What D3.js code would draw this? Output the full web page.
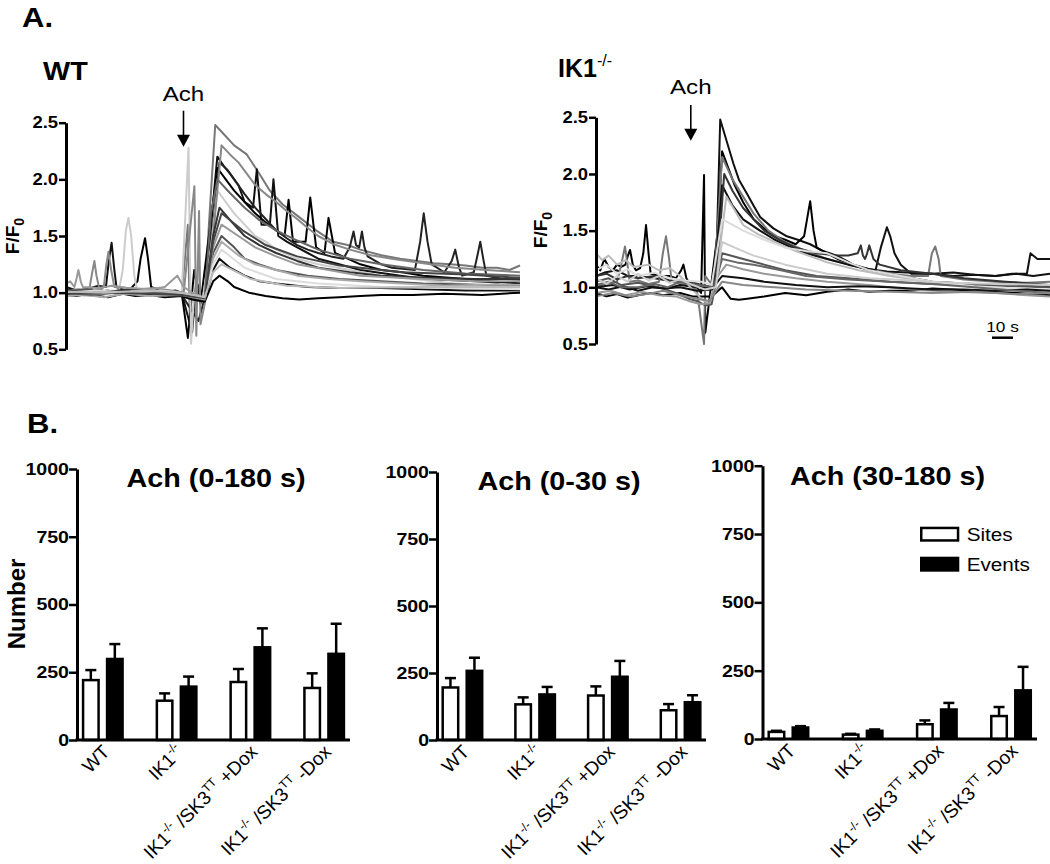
<!DOCTYPE html>
<html><head><meta charset="utf-8">
<script src="https://cdn.jsdelivr.net/npm/d3@7"></script>
<style>body{margin:0;background:#fff} text{font-family:"Liberation Sans",Arial,sans-serif;fill:#000}</style>
</head><body><svg id="c" width="1050" height="864"></svg>
<script>
// ---------------- DATA ----------------
// Panel A: F/F0 traces, points are [time (s), F/F0]
const traceTimeDomain = [0, 216];
const traceYTicks = [0.5, 1.0, 1.5, 2.0, 2.5];
const wtAchTime = 55.9;
const ik1AchTime = 45.1;
const scaleBarStart = 188.4, scaleBarLen = 10;

const wtTraces = [
  [[0,1.0],[4,1.02],[9,0.98],[14,1.01],[20,1.02],[26,0.99],[31,0.99],[36,1.01],[40,1.0],[47,0.99],[55,0.98],[58,1.6],[59,0.7],[62,1.0],[66,0.95],[68,1.6],[71,2.48],[75,2.4],[80,2.3],[86,2.22],[92,2.05],[97,1.9],[103,1.78],[110,1.68],[119,1.55],[127,1.45],[134,1.42],[140,1.38],[150,1.33],[159,1.3],[167,1.28],[175,1.26],[183,1.25],[190,1.24],[198,1.22],[205,1.22],[211,1.2],[216,1.24]],
  [[0,1.05],[5,1.02],[10,1.03],[15,1.06],[19,1.05],[20.5,1.3],[21.7,1.44],[23,1.2],[24,1.05],[28,1.02],[32,1.0],[36,1.03],[40,1.02],[46,1.0],[52,1.02],[55,1.0],[60,0.65],[62,1.1],[66,0.92],[70,1.8],[72,2.2],[75,2.12],[78,2.05],[82,1.95],[85,1.8],[89,1.75],[90.8,2.09],[93,1.6],[97,1.6],[98.7,2.0],[101,1.5],[105,1.45],[110,1.4],[115,1.35],[120,1.3],[130,1.25],[140,1.2],[155,1.16],[170,1.12],[185,1.11],[195,1.1],[205,1.09],[216,1.1]],
  [[0,1.0],[6,1.01],[10,0.99],[15,0.98],[22,1.01],[30,1.02],[34,1.1],[35.5,1.3],[37.6,1.48],[39,1.3],[40.5,1.05],[45,1.02],[50,1.0],[55,1.0],[58,0.6],[61,1.2],[64,0.9],[68,1.5],[72,2.1],[76,2.0],[80,1.9],[85,1.8],[90,1.7],[95,1.62],[100,1.55],[104,1.5],[105.9,1.82],[108,1.45],[111,1.45],[114,1.45],[116.2,1.84],[119,1.4],[123,1.35],[124.9,1.66],[128,1.35],[134,1.3],[140,1.25],[150,1.2],[160,1.18],[170,1.15],[190,1.12],[216,1.08]],
  [[0,1.0],[8,0.99],[15,1.02],[20,1.01],[30,1.0],[40,0.99],[48,1.0],[55,0.98],[63,0.75],[66,0.95],[70,1.6],[73,2.15],[77,2.08],[80,2.0],[85,1.87],[90,1.75],[95,1.65],[100,1.55],[105,1.48],[110,1.42],[115,1.38],[120,1.35],[126,1.32],[132,1.3],[135,1.4],[136.8,1.54],[138,1.42],[139.5,1.4],[140.8,1.54],[142,1.4],[143.5,1.32],[150,1.25],[155,1.22],[160,1.21],[166,1.2],[168.5,1.45],[170.2,1.7],[172,1.45],[174,1.25],[180,1.18],[183.5,1.28],[185.2,1.38],[187,1.22],[188.5,1.15],[194,1.18],[196,1.35],[197.1,1.45],[198.5,1.3],[200,1.15],[208,1.12],[216,1.12]],
  [[0,1.0],[6,0.98],[12,0.97],[18,0.99],[22,1.02],[25,1.0],[27,1.2],[28.5,1.55],[29.7,1.66],[31,1.5],[32.5,1.15],[34,1.0],[40,0.99],[45,0.98],[50,1.0],[55,0.97],[58.3,2.28],[59.5,0.55],[61,1.0],[65,0.95],[69,1.4],[72,1.9],[76,1.8],[80,1.7],[85,1.6],[90,1.5],[95,1.45],[100,1.38],[110,1.3],[120,1.25],[135,1.2],[150,1.15],[165,1.12],[185,1.08],[200,1.06],[216,1.05]],
  [[0,1.02],[6,1.03],[11,1.02],[12.5,1.18],[13.5,1.28],[14.5,1.15],[16,1.02],[18,1.05],[19.2,1.25],[20.2,1.36],[21.5,1.2],[23,1.05],[29,1.04],[35,1.03],[42,1.04],[50,1.02],[56,1.0],[61.1,1.94],[62,0.62],[63.3,1.72],[64,0.72],[66,0.9],[70,1.5],[74,2.3],[78,2.22],[82,2.15],[86,2.05],[90,1.95],[95,1.87],[100,1.8],[105,1.72],[110,1.65],[115,1.57],[120,1.5],[127,1.43],[135,1.38],[145,1.33],[155,1.3],[170,1.26],[185,1.22],[200,1.2],[216,1.18]],
  [[0,0.98],[5,0.97],[10,0.99],[15,0.97],[20,0.96],[27,0.99],[33,0.97],[40,0.98],[47,0.96],[55,0.97],[60,0.94],[66,0.92],[70,1.1],[73,1.15],[77,1.1],[80,1.05],[87,1.0],[95,0.97],[103,0.95],[111,0.94],[120,0.95],[130,0.96],[140,0.97],[150,0.98],[165,0.98],[180,0.99],[198,0.98],[216,1.0]],
  [[0,1.0],[7,1.01],[14,0.99],[25,1.02],[35,1.0],[45,1.01],[55,0.98],[66,0.93],[70,1.2],[73,1.3],[78,1.22],[85,1.15],[92,1.1],[100,1.08],[115,1.05],[130,1.04],[150,1.04],[170,1.03],[190,1.02],[216,1.02]],
  [[0,1.01],[10,1.03],[20,1.0],[30,0.99],[42,1.01],[55,1.0],[66,0.95],[70,1.35],[74,1.5],[80,1.4],[85,1.3],[92,1.25],[100,1.2],[115,1.15],[130,1.12],[150,1.1],[170,1.08],[195,1.07],[216,1.06]],
  [[0,0.97],[9,0.98],[18,0.96],[28,0.99],[40,0.97],[55,0.98],[66,0.94],[70,1.3],[74,1.45],[82,1.33],[90,1.25],[100,1.2],[110,1.15],[125,1.12],[140,1.1],[160,1.08],[180,1.06],[200,1.07],[216,1.07]],
  [[0,1.03],[8,1.0],[15,1.02],[22,1.01],[32,1.03],[44,1.0],[55,1.0],[66,0.95],[70,1.5],[73,1.75],[79,1.62],[85,1.5],[92,1.42],[100,1.35],[110,1.28],[120,1.22],[135,1.18],[150,1.15],[175,1.13],[195,1.12],[216,1.12]],
  [[0,1.0],[12,0.98],[24,1.0],[35,1.01],[46,0.99],[55,0.99],[66,0.96],[69,1.7],[72,2.0],[78,1.88],[85,1.75],[92,1.64],[100,1.55],[110,1.46],[120,1.38],[135,1.3],[150,1.25],[170,1.2],[190,1.17],[216,1.15]],
  [[0,1.08],[2,1.1],[4,1.05],[5,1.12],[5.9,1.2],[7,1.1],[8,1.05],[15,1.04],[22,1.06],[30,1.04],[40,1.03],[47,1.05],[50,1.1],[53,1.15],[56,1.05],[60,1.0],[66,0.95],[70,1.4],[74,1.6],[82,1.5],[90,1.4],[100,1.32],[110,1.25],[125,1.2],[140,1.15],[170,1.12],[195,1.1],[216,1.1]],
  [[0,1.0],[15,1.02],[30,1.0],[45,1.02],[55,1.0],[66,0.95],[70,1.25],[74,1.38],[85,1.22],[100,1.12],[120,1.08],[150,1.05],[180,1.04],[216,1.03]],
  [[0,0.99],[20,1.0],[40,0.99],[55,0.98],[66,0.95],[70,1.45],[74,1.7],[84,1.55],[95,1.42],[110,1.32],[130,1.24],[160,1.18],[190,1.16],[216,1.13]],
  [[0,1.01],[18,1.0],[38,1.02],[55,1.0],[66,0.96],[70,1.18],[74,1.25],[88,1.12],[105,1.06],[130,1.04],[170,1.05],[216,1.05]]
];
const wtColors = ["#777","#111","#000","#222","#ccc","#888","#000","#111","#555","#aaa","#333","#666","#999","#ddd","#444","#bbb"];

const ik1Traces = [
  [[0,1.1],[4,1.13],[10,1.15],[15,1.1],[20,1.1],[28,1.08],[34,1.06],[40,1.05],[45,1.03],[50,1.0],[55,1.0],[57.5,1.4],[59.1,2.48],[62,2.3],[65.4,2.09],[68,1.95],[71.7,1.83],[75,1.72],[78.1,1.62],[84.4,1.52],[90.8,1.45],[96,1.42],[101.9,1.38],[108,1.32],[114.6,1.28],[122.5,1.2],[130,1.16],[138.4,1.14],[148,1.13],[160,1.12],[170,1.13],[180,1.11],[190,1.1],[198,1.12],[205,1.12],[206.7,1.3],[210,1.25],[216,1.25]],
  [[0,1.2],[2,1.15],[4,1.25],[6,1.18],[8,1.15],[10,1.2],[12,1.18],[14,1.2],[15.2,1.28],[16.2,1.33],[17.5,1.2],[19,1.15],[21,1.17],[22.5,1.3],[23.8,1.55],[25,1.3],[26,1.12],[30,1.1],[35,1.1],[38,1.08],[40.5,1.15],[41.6,1.2],[43,1.08],[44,1.05],[48,1.0],[50,0.95],[51.4,1.99],[52,0.6],[54,0.9],[58,1.5],[60,2.2],[63,2.05],[66,1.9],[70,1.75],[75,1.6],[80,1.52],[85,1.45],[90,1.42],[95,1.38],[99,1.45],[101.9,1.76],[103.5,1.5],[105,1.35],[110,1.3],[115,1.25],[122,1.2],[130,1.15],[145,1.1],[160,1.05],[180,1.03],[200,1.02],[216,1.0]],
  [[0,1.0],[4,1.03],[8,1.04],[10,1.05],[12,1.2],[13.8,1.36],[15,1.2],[16,1.05],[20,1.06],[25,1.03],[30,1.05],[31.8,1.3],[33.3,1.45],[34.8,1.25],[36,1.05],[42,1.03],[48,0.98],[51.4,0.5],[52,1.1],[56,1.0],[60,2.15],[65,1.95],[70,1.8],[75,1.65],[82,1.5],[90,1.4],[100,1.32],[110,1.25],[125,1.18],[140,1.12],[150,1.1],[158,1.1],[159.8,1.3],[161.4,1.36],[163,1.25],[164,1.1],[175,1.07],[190,1.05],[205,1.04],[216,1.05]],
  [[0,1.0],[6,0.98],[13,1.01],[20,0.97],[27,1.0],[34,0.99],[40,1.02],[48,1.0],[56,1.0],[60,1.9],[65,1.72],[70,1.6],[78,1.5],[85,1.42],[92,1.36],[100,1.3],[110,1.25],[120,1.2],[127,1.17],[133,1.15],[135.5,1.35],[138.4,1.53],[140,1.45],[142,1.3],[145,1.2],[150,1.12],[160,1.12],[170,1.1],[180,1.11],[190,1.1],[200,1.12],[208,1.1],[216,1.12]],
  [[0,0.95],[5,0.92],[10,0.94],[15,0.91],[20,0.93],[26,0.95],[32,0.93],[40,0.95],[46,0.92],[55,0.92],[60,1.0],[64,0.9],[68,0.89],[72,0.9],[80,0.92],[90,0.95],[100,0.93],[110,0.96],[120,0.98],[130,0.96],[140,0.97],[150,0.97],[160,0.99],[170,0.98],[185,0.96],[200,0.95],[216,0.93]],
  [[0,1.3],[3,1.24],[6,1.28],[10,1.2],[14,1.24],[18,1.18],[25,1.2],[30,1.15],[35,1.17],[40,1.1],[45,1.0],[50,0.9],[54,0.85],[58,1.2],[62,1.8],[66,1.68],[70,1.55],[77,1.47],[85,1.4],[95,1.32],[110,1.22],[125,1.15],[140,1.1],[160,1.05],[180,1.0],[198,0.98],[216,0.96]],
  [[0,1.05],[6,1.08],[12,1.02],[20,1.04],[30,1.0],[38,0.95],[44,0.9],[48,0.88],[52,0.84],[55,0.85],[60,1.3],[64,1.28],[70,1.25],[80,1.2],[90,1.15],[105,1.1],[120,1.08],[140,1.05],[160,1.03],[180,1.02],[200,1.01],[216,1.0]],
  [[0,0.95],[7,0.97],[14,0.93],[22,0.96],[30,0.93],[38,0.92],[44,0.88],[50,0.85],[54,0.86],[58,1.1],[62,1.2],[70,1.16],[80,1.12],[95,1.08],[110,1.05],[130,1.02],[150,0.98],[170,0.96],[190,0.95],[205,0.93],[216,0.92]],
  [[0,1.1],[5,1.12],[10,1.07],[15,1.1],[20,1.08],[28,1.1],[35,1.06],[45,1.05],[50,1.02],[56,1.0],[59,1.5],[61,2.0],[65,1.85],[70,1.7],[75,1.6],[80,1.5],[87,1.42],[95,1.35],[105,1.3],[115,1.28],[120,1.28],[124.5,1.3],[126,1.37],[127,1.28],[128,1.25],[129,1.3],[130,1.37],[132,1.25],[135,1.2],[145,1.15],[160,1.12],[175,1.08],[195,1.05],[216,1.02]],
  [[0,1.15],[5,1.2],[10,1.12],[15,1.16],[20,1.1],[28,1.13],[35,1.08],[42,1.06],[50,1.05],[55,1.02],[60,1.6],[65,1.55],[70,1.5],[80,1.42],[90,1.35],[100,1.32],[110,1.3],[120,1.22],[130,1.15],[145,1.1],[160,1.05],[180,1.01],[200,0.99],[216,0.98]],
  [[0,1.0],[8,1.02],[16,0.98],[24,1.01],[32,0.99],[40,1.0],[48,0.97],[55,0.98],[60,1.1],[70,1.08],[80,1.05],[95,1.02],[110,1.0],[125,1.01],[140,1.0],[150,0.99],[160,0.98],[175,0.98],[190,0.97],[205,0.98],[216,0.97]],
  [[0,1.02],[6,1.05],[12,1.0],[20,1.0],[28,1.03],[34,1.0],[40,1.05],[48,1.02],[56,1.0],[60,1.25],[67,1.22],[75,1.2],[88,1.15],[100,1.1],[120,1.07],[140,1.05],[160,1.03],[180,1.0],[200,0.97],[216,0.95]],
  [[0,1.08],[5,1.03],[10,1.1],[15,1.05],[20,1.12],[25,1.06],[30,1.1],[35,1.04],[40,1.07],[46,1.02],[52,0.98],[57,1.0],[60,1.4],[66,1.35],[75,1.28],[90,1.2],[110,1.12],[130,1.08],[150,1.06],[170,1.04],[190,1.03],[216,1.02]],
  [[0,0.92],[8,0.95],[16,0.92],[24,0.94],[32,0.97],[40,0.93],[48,0.9],[54,0.88],[60,1.05],[70,1.02],[85,1.0],[100,0.98],[120,0.97],[140,0.96],[160,0.95],[180,0.96],[200,0.94],[216,0.95]]
];
const ik1Colors = ["#111","#000","#777","#111","#000","#bbb","#555","#999","#333","#ddd","#111","#666","#ccc","#888"];

// Panel B: bar charts
const groups = ["WT","IK1-/-","IK1-/-/SK3TT +Dox","IK1-/-/SK3TT -Dox"];
const groupLabelParts = [
  [["WT",0]],
  [["IK1",0],["-/-",1]],
  [["IK1",0],["-/-",1],[" /SK3",0],["TT",1],[" +Dox",0]],
  [["IK1",0],["-/-",1],[" /SK3",0],["TT",1],[" -Dox",0]]
];
const seriesNames = ["Sites","Events"];
const barYTicks = [0, 250, 500, 750, 1000];
const panelTitles = ["Ach (0-180 s)", "Ach (0-30 s)", "Ach (30-180 s)"];
const sites0_180  = [221, 145, 214, 192];
const sitesSem0_180 = [37, 27, 48, 54];
const events0_180 = [299, 197, 342, 318];
const eventsSem0_180 = [55, 37, 70, 111];
const sites0_30  = [196, 133, 166, 111];
const sitesSem0_30 = [35, 26, 34, 23];
const events0_30 = [258, 170, 236, 141];
const eventsSem0_30 = [49, 28, 59, 26];
const sites30_180  = [26, 16, 54, 84];
const sitesSem30_180 = [4, 3, 14, 33];
const events30_180 = [42, 30, 108, 178];
const eventsSem30_180 = [5, 5, 24, 86];

// ---------------- DRAW ----------------
const svg = d3.select("#c");
const K = 1.15; // horizontal text widening seen in the figure
function stretch(sel, k) {
  sel.each(function(){ const L = this.getComputedTextLength(); this.setAttribute("textLength", L * (k||K)); this.setAttribute("lengthAdjust","spacingAndGlyphs"); });
  return sel;
}
function txt(x, y, s, size, weight, anchor) {
  return svg.append("text").attr("x", x).attr("y", y).attr("font-size", size)
    .attr("font-weight", weight || "normal").attr("text-anchor", anchor || "start").text(s);
}

stretch(txt(22, 27, "A.", 27, "bold"));
stretch(txt(27, 433, "B.", 27, "bold"));

function tracePanel(cfg) {
  const x = d3.scaleLinear().domain(traceTimeDomain).range([cfg.x0, cfg.x1]);
  const y = d3.scaleLinear().domain([0.5, 2.5]).range([cfg.yBot, cfg.yTop]);
  const line = d3.line().x(d => x(d[0])).y(d => y(d[1]));
  const g = svg.append("g");
  cfg.traces.forEach((t, i) => {
    g.append("path").attr("d", line(t)).attr("fill", "none")
      .attr("stroke", cfg.colors[i]).attr("stroke-width", 2).attr("stroke-linejoin", "round");
  });
  const ax = svg.append("g").attr("transform", `translate(${cfg.x0},0)`)
    .call(d3.axisLeft(y).tickValues(traceYTicks).tickFormat(d3.format(".1f")).tickSize(7).tickSizeOuter(0));
  ax.select(".domain").attr("stroke-width", 3);
  ax.selectAll(".tick line").attr("stroke-width", 2.5);
  ax.selectAll(".tick text").attr("font-size", 16).attr("font-weight", "bold")
    .attr("font-family", '"Liberation Sans",Arial,sans-serif').attr("x", -8).attr("fill", "#000");
  stretch(ax.selectAll(".tick text"));
  const yl = svg.append("text").attr("transform", `translate(${cfg.labX},${cfg.labY}) rotate(-90)`)
    .attr("text-anchor", "middle").attr("font-size", 19).attr("font-weight", "bold");
  yl.append("tspan").text("F/F");
  yl.append("tspan").text("0").attr("font-size", 14).attr("dy", 5);
  const ax0 = x(cfg.ach);
  stretch(txt(ax0, cfg.achY, "Ach", 21, "normal", "middle"));
  svg.append("line").attr("x1", ax0).attr("x2", ax0).attr("y1", cfg.arrowTop).attr("y2", cfg.arrowTip - 10)
    .attr("stroke", "#000").attr("stroke-width", 1.6);
  svg.append("path").attr("d", `M${ax0-6.5},${cfg.arrowTip-12}L${ax0+6.5},${cfg.arrowTip-12}L${ax0},${cfg.arrowTip}Z`).attr("fill", "#000");
  return x;
}

tracePanel({x0: 66, x1: 520, yTop: 122.7, yBot: 349.3, traces: wtTraces, colors: wtColors,
  labX: 19, labY: 236, ach: wtAchTime, achY: 101, arrowTop: 110.7, arrowTip: 146.7});
const xK = tracePanel({x0: 596, x1: 1050, yTop: 117.3, yBot: 344, traces: ik1Traces, colors: ik1Colors,
  labX: 547, labY: 230, ach: ik1AchTime, achY: 94.3, arrowTop: 105, arrowTip: 140.7});

stretch(txt(43, 80, "WT", 25, "bold"));
const ik = svg.append("text").attr("x", 558).attr("y", 77).attr("font-size", 25).attr("font-weight", "bold");
ik.append("tspan").text("IK1");
ik.append("tspan").text("-/-").attr("font-size", 16).attr("dy", -11).attr("font-weight", "normal");

svg.append("line").attr("x1", xK(scaleBarStart)).attr("x2", xK(scaleBarStart + scaleBarLen))
  .attr("y1", 337.7).attr("y2", 337.7).attr("stroke", "#000").attr("stroke-width", 2.5);
stretch(txt((xK(scaleBarStart) + xK(scaleBarStart + scaleBarLen)) / 2, 331.7, "10 s", 15, "normal", "middle"));

const barPanels = [
  {ax: 77, end: 350, y0: 740, y1: 469, tx: 216, ty: 487, sites: sites0_180, sSem: sitesSem0_180, events: events0_180, eSem: eventsSem0_180},
  {ax: 437, end: 706, y0: 740, y1: 472, tx: 559, ty: 490, sites: sites0_30, sSem: sitesSem0_30, events: events0_30, eSem: eventsSem0_30},
  {ax: 762.5, end: 1037, y0: 739, y1: 465.7, tx: 887.5, ty: 485, sites: sites30_180, sSem: sitesSem30_180, events: events30_180, eSem: eventsSem30_180}
];
barPanels.forEach((p, pi) => {
  const x = d3.scalePoint().domain(groups).range([p.ax, p.end]).padding(0.35);
  const y = d3.scaleLinear().domain([0, 1000]).range([p.y0, p.y1]);
  const g = svg.append("g");
  const bw = 18, gap = 3;
  const series = [
    {vals: p.sites, sem: p.sSem, off: -gap - bw, fill: "#fff"},
    {vals: p.events, sem: p.eSem, off: gap, fill: "#000"}
  ];
  series.forEach(s => {
    groups.forEach((gname, i) => {
      const cx = x(gname) + s.off + bw / 2;
      const v = s.vals[i], e = s.sem[i];
      g.append("line").attr("x1", cx).attr("x2", cx).attr("y1", y(v)).attr("y2", y(v + e)).attr("stroke", "#000").attr("stroke-width", 2.5);
      g.append("line").attr("x1", cx - 5.5).attr("x2", cx + 5.5).attr("y1", y(v + e)).attr("y2", y(v + e)).attr("stroke", "#000").attr("stroke-width", 2.5);
      if (s.fill === "#fff") {
        g.append("rect").attr("x", cx - bw / 2 + 1.25).attr("width", bw - 2.5).attr("y", y(v)).attr("height", p.y0 - y(v))
          .attr("fill", "#fff").attr("stroke", "#000").attr("stroke-width", 2.5);
      } else {
        g.append("rect").attr("x", cx - bw / 2).attr("width", bw).attr("y", y(v) - 1.25).attr("height", p.y0 - y(v) + 1.25).attr("fill", "#000");
      }
    });
  });
  const ay = svg.append("g").attr("transform", `translate(${p.ax},0)`)
    .call(d3.axisLeft(y).tickValues(barYTicks).tickFormat(d3.format("d")).tickSize(8).tickSizeOuter(0));
  ay.select(".domain").attr("stroke-width", 3);
  ay.selectAll(".tick line").attr("stroke-width", 2.5);
  ay.selectAll(".tick text").attr("font-size", 17).attr("font-weight", "bold")
    .attr("font-family", '"Liberation Sans",Arial,sans-serif').attr("x", -8).attr("fill", "#000");
  stretch(ay.selectAll(".tick text"));
  svg.append("line").attr("x1", p.ax - 1.5).attr("x2", p.end).attr("y1", p.y0).attr("y2", p.y0).attr("stroke", "#000").attr("stroke-width", 3);
  groups.forEach((gname, i) => {
    const t = svg.append("text").attr("transform", `translate(${x(gname) + 8},${p.y0 + 13}) rotate(-45)`)
      .attr("text-anchor", "end").attr("font-size", 19).style("white-space", "pre");
    let prevSup = false;
    groupLabelParts[i].forEach(([s, sup]) => {
      const ts = t.append("tspan").text(s);
      if (sup && !prevSup) ts.attr("dy", -8);
      else if (!sup && prevSup) ts.attr("dy", 8);
      if (sup) ts.attr("font-size", 12);
      prevSup = !!sup;
    });
  });
  stretch(txt(p.tx, p.ty, panelTitles[pi], 25, "bold", "middle"));
});

svg.append("text").attr("transform", "translate(25,604) rotate(-90)").attr("text-anchor", "middle")
  .attr("font-size", 24).attr("font-weight", "bold").text("Number");

const lg = [{name: seriesNames[0], fill: "#fff", y: 526.7}, {name: seriesNames[1], fill: "#000", y: 556.7}];
lg.forEach(l => {
  svg.append("rect").attr("x", 921.25).attr("y", l.y + 1.25).attr("width", 36.8).attr("height", 12.5)
    .attr("fill", l.fill).attr("stroke", "#000").attr("stroke-width", 2.5);
  stretch(txt(966.7, l.y + 14.5, l.name, 18, "normal"));
});
</script></body></html>
